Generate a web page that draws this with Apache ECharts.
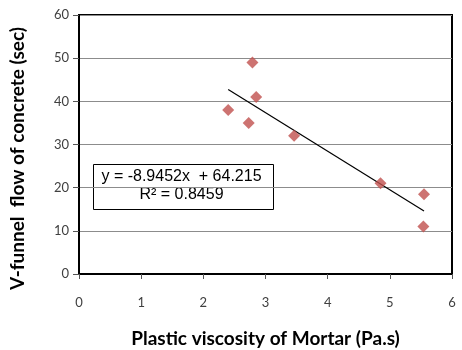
<!DOCTYPE html>
<html>
<head>
<meta charset="utf-8">
<script src="https://cdn.jsdelivr.net/npm/echarts@6/dist/echarts.min.js"></script>
<style>
  html, body { margin: 0; padding: 0; background: #fff; }
  #chart { width: 462px; height: 350px; }
</style>
</head>
<body>
<div id="chart"></div>
<script>
// measured points: plastic viscosity (Pa.s) vs V-funnel time (sec)
const viscosity = [2.40, 2.73, 2.79, 2.85, 3.46, 4.85, 5.55, 5.54];
const vfunnel = [38, 35, 49, 41, 32, 21, 18.5, 11];
// linear trend (Excel)
const trendSlope = [-8.9452];
const trendIntercept = [64.215];
const trendR2 = ["0.8459"];
const xTicks = [0, 1, 2, 3, 4, 5, 6];
const yTicks = [0, 10, 20, 30, 40, 50, 60];

const chart = echarts.init(document.getElementById("chart"));

const points = viscosity.map((v, i) => [v, vfunnel[i]]);
const xMinData = Math.min(...viscosity);
const xMaxData = Math.max(...viscosity);
const trendLine = [xMinData, xMaxData].map((x) => [x, trendSlope[0] * x + trendIntercept[0]]);

const tickFont = { color: "#404040", fontSize: 13, fontFamily: "Lato" };

const option = {
  backgroundColor: "#fff",
  animation: false,
  grid: {
    left: 79,
    right: 10,
    top: 15,
    bottom: 76,
    outerBoundsMode: "none",
    containLabel: false,
    show: true,
    borderColor: "#000",
    borderWidth: 2,
  },
  xAxis: {
    type: "value",
    min: xTicks[0],
    max: xTicks[xTicks.length - 1],
    interval: 1,
    name: "Plastic viscosity of Mortar (Pa.s)",
    nameLocation: "middle",
    nameGap: 55,
    nameTextStyle: { fontFamily: "Lato", fontWeight: "bold", fontSize: 19, color: "#000" },
    axisLine: { show: true, lineStyle: { color: "#000", width: 1 } },
    axisTick: { show: true, length: 5, lineStyle: { color: "#555" } },
    axisLabel: { ...tickFont, margin: 22 },
    splitLine: { show: false },
  },
  yAxis: {
    type: "value",
    min: yTicks[0],
    max: yTicks[yTicks.length - 1],
    interval: 10,
    name: "V-funnel  flow of concrete (sec)",
    nameLocation: "middle",
    nameGap: 52,
    nameTextStyle: { fontFamily: "Lato", fontWeight: "bold", fontSize: 19, color: "#000", padding: [0, 0, 0, -28] },
    axisLine: { show: true, lineStyle: { color: "#000", width: 1 } },
    axisTick: { show: true, length: 6, lineStyle: { color: "#555" } },
    axisLabel: { ...tickFont, margin: 10 },
    splitLine: { show: true, lineStyle: { color: "#8c8c8c", width: 1 } },
  },
  series: [
    {
      type: "line",
      data: trendLine,
      symbol: "none",
      lineStyle: { color: "#000", width: 1.2 },
      z: 2,
    },
    {
      type: "scatter",
      data: points,
      symbol: "diamond",
      symbolSize: 12,
      itemStyle: { color: "#C0504D" },
      z: 3,
    },
  ],
  graphic: [
    {
      type: "group",
      left: 93,
      top: 164,
      children: [
        {
          type: "rect",
          shape: { x: 0, y: 0, width: 180, height: 45 },
          style: { fill: "#fff", stroke: "#000", lineWidth: 1 },
        },
        {
          type: "text",
          x: 88,
          y: 4,
          style: {
            text: "y = " + trendSlope[0] + "x  + " + trendIntercept[0],
            font: "16px 'Liberation Sans', Arial",
            fill: "#000",
            align: "center",
          },
        },
        {
          type: "text",
          x: 88,
          y: 22,
          style: {
            text: "R\u00b2 = " + trendR2[0],
            font: "16px 'Liberation Sans', Arial",
            fill: "#000",
            align: "center",
          },
        },
      ],
    },
  ],
};

chart.setOption(option);
</script>
</body>
</html>
